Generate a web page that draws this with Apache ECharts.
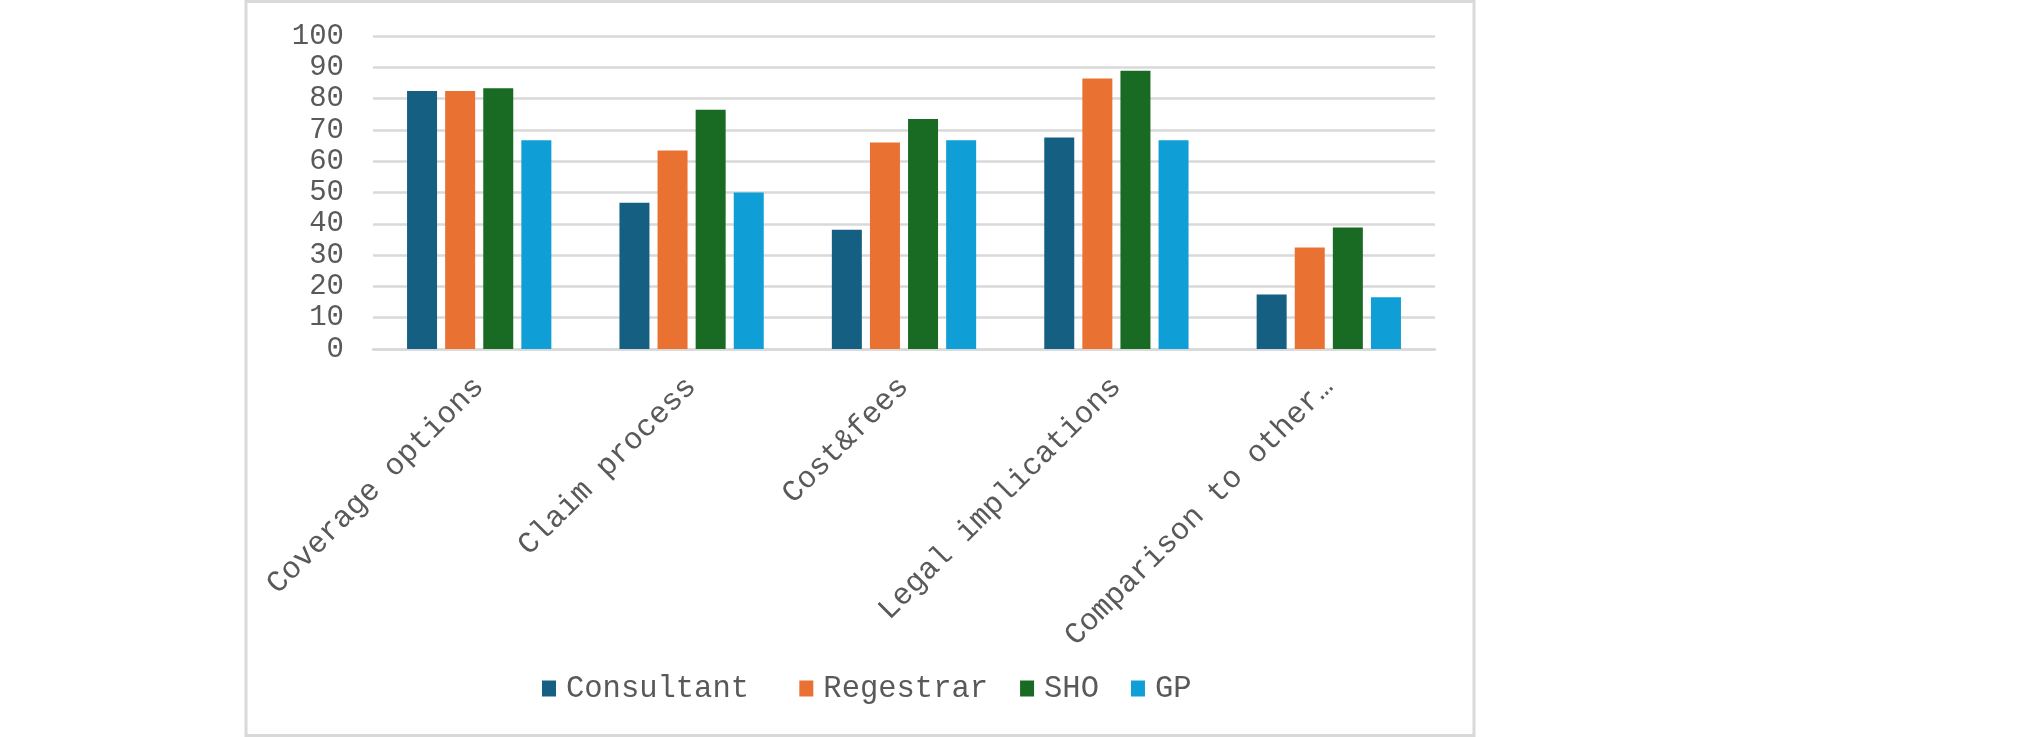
<!DOCTYPE html>
<html>
<head>
<meta charset="utf-8">
<script src="https://cdn.jsdelivr.net/npm/echarts@6/dist/echarts.min.js"></script>
<style>
  html, body { margin: 0; padding: 0; background: #fff; }
  #main { width: 2031px; height: 737px; }
</style>
</head>
<body>
<div id="main"></div>
<script>
var categories = ['Coverage options', 'Claim process', 'Cost&fees', 'Legal implications', 'Comparison to other…'];
var consultant = [82.4, 46.7, 38.1, 67.6, 17.4];
var regestrar = [82.4, 63.4, 66.0, 86.4, 32.4];
var sho = [83.3, 76.4, 73.5, 88.9, 38.8];
var gp = [66.7, 50.0, 66.7, 66.7, 16.5];
var yTicks = [0, 10, 20, 30, 40, 50, 60, 70, 80, 90, 100];

var font = '"Liberation Mono", "Courier New", monospace';
var textColor = '#595959';

function bar(name, data, color) {
    return {
        name: name,
        type: 'bar',
        data: data,
        barWidth: 30,
        barGap: '27%',
        itemStyle: {color: color},
        animation: false
    };
}

var myChart = echarts.init(document.getElementById('main'));
myChart.setOption({
    animation: false,
    graphic: [{
        type: 'rect',
        shape: {x: 246, y: 1.5, width: 1228, height: 734},
        style: {fill: 'none', stroke: '#d9d9d9', lineWidth: 3},
        silent: true
    }],
    grid: {left: 373, right: 596, top: 36, bottom: 388},
    legend: {
        bottom: 28,
        left: 537,
        itemWidth: 14,
        itemHeight: 16,
        itemGap: 32,
        icon: 'rect',
        textStyle: {fontFamily: font, fontSize: 30.5, color: textColor, padding: [0, 0, 0, 5]},
        data: ['Consultant', 'Regestrar', 'SHO', 'GP'],
        formatter: function (name) {
            return name === 'Consultant' ? name + ' ' : name;
        }
    },
    xAxis: {
        type: 'category',
        data: categories,
        axisLine: {lineStyle: {color: '#d9d9d9', width: 2.5}},
        axisTick: {show: false},
        axisLabel: {
            rotate: 45,
            interval: 0,
            margin: 33,
            fontFamily: font,
            fontSize: 30.5,
            color: textColor
        }
    },
    yAxis: {
        type: 'value',
        min: yTicks[0],
        max: yTicks[yTicks.length - 1],
        interval: 10,
        axisLine: {show: false},
        axisTick: {show: false},
        splitLine: {lineStyle: {color: '#d9d9d9', width: 2.5}},
        axisLabel: {
            margin: 29,
            fontFamily: font,
            fontSize: 29,
            color: textColor
        }
    },
    series: [
        bar('Consultant', consultant, '#156082'),
        bar('Regestrar', regestrar, '#E97132'),
        bar('SHO', sho, '#196B24'),
        bar('GP', gp, '#0F9ED5')
    ]
});
</script>
</body>
</html>
